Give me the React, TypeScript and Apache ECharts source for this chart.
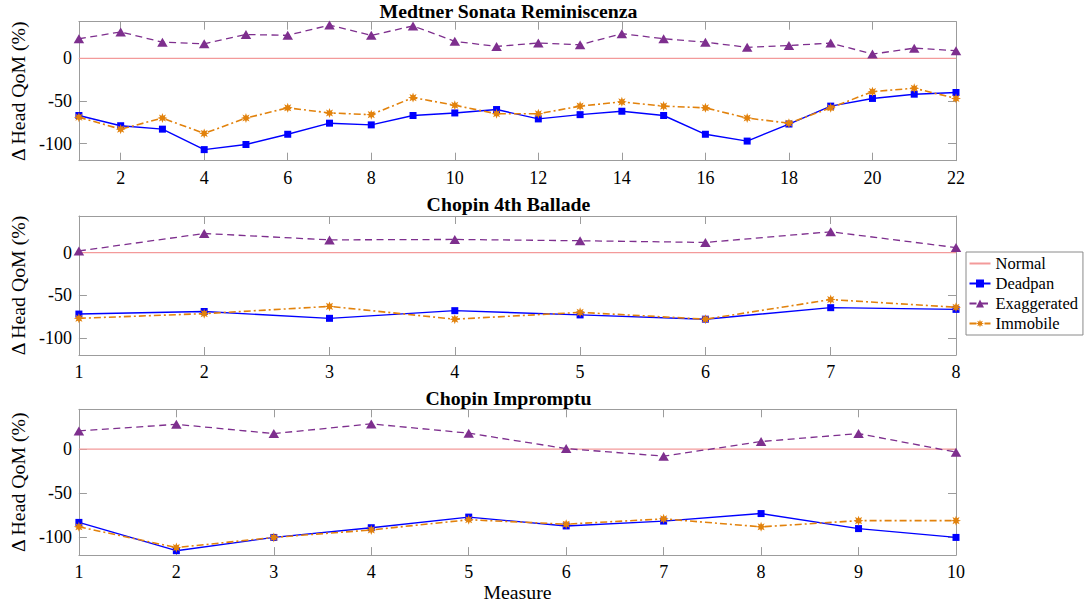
import React, { useEffect, useRef } from "react";
import * as echarts from "echarts";

// ---------- data ----------
const measures1 = [1, 2, 3, 4, 5, 6, 7, 8, 9, 10, 11, 12, 13, 14, 15, 16, 17, 18, 19, 20, 21, 22];
const normal1 = [0, 0, 0, 0, 0, 0, 0, 0, 0, 0, 0, 0, 0, 0, 0, 0, 0, 0, 0, 0, 0, 0];
const deadpan1 = [-67, -79, -83, -107, -101, -89, -76, -78, -67, -64, -60, -71, -66, -62, -67, -89, -97, -77, -56, -47, -42, -40];
const exaggerated1 = [23, 31, 19, 17, 28, 27, 39, 27, 38, 20, 14, 18, 16, 29, 23, 19, 13, 15, 18, 5, 12, 9];
const immobile1 = [-69, -83, -70, -88, -70, -58, -64, -66, -46, -55, -65, -65, -56, -51, -56, -58, -70, -76, -58, -39, -35, -47];
const xTicks1 = [2, 4, 6, 8, 10, 12, 14, 16, 18, 20, 22];

const measures2 = [1, 2, 3, 4, 5, 6, 7, 8];
const normal2 = [0, 0, 0, 0, 0, 0, 0, 0];
const deadpan2 = [-72, -69, -77, -68, -73, -78, -64.5, -66.5];
const exaggerated2 = [2, 22.5, 15, 15.5, 14, 12, 24.5, 6];
const immobile2 = [-77, -71.5, -63, -78, -70, -78, -55, -64];
const xTicks2 = [1, 2, 3, 4, 5, 6, 7, 8];

const measures3 = [1, 2, 3, 4, 5, 6, 7, 8, 9, 10];
const normal3 = [0, 0, 0, 0, 0, 0, 0, 0, 0, 0];
const deadpan3 = [-83, -115, -100, -89, -77, -87, -81.5, -73, -90, -100];
const exaggerated3 = [20.5, 28, 17.5, 28.5, 18, 0.5, -8, 8.5, 17.5, -3.5];
const immobile3 = [-88, -111.5, -100, -91.5, -80, -85, -79, -88, -81, -81];
const xTicks3 = [1, 2, 3, 4, 5, 6, 7, 8, 9, 10];

const yTicks = [-100, -50, 0];
const titles = ["Medtner Sonata Reminiscenza", "Chopin 4th Ballade", "Chopin Impromptu"];
const seriesNames = ["Normal", "Deadpan", "Exaggerated", "Immobile"];
const yLabel = "\u0394 Head QoM (%)";
const xLabel = "Measure";

// ---------- styles ----------
const FONT = '"Liberation Serif", "Times New Roman", Times, serif';
const AXIS_COLOR = "#9c9c9c";
const C_NORMAL = "#f39a9a";
const C_DEADPAN = "#0000ff";
const C_EXAG = "#7e2f8e";
const C_IMMOB = "#e2820c";

function starSymbol(): string {
  const pts: string[] = [];
  const n = 8;
  for (let k = 0; k < n * 2; k++) {
    const r = k % 2 === 0 ? 10 : 5;
    const a = (Math.PI * k) / n - Math.PI / 2;
    pts.push(`${(r * Math.cos(a)).toFixed(3)},${(r * Math.sin(a)).toFixed(3)}`);
  }
  return "path://M" + pts.join("L") + "Z";
}

const panels = [
  { measures: measures1, normal: normal1, deadpan: deadpan1, exag: exaggerated1, immob: immobile1, xTicks: xTicks1, yMax: 43, top: 21.7, height: 139, titleY: 11 },
  { measures: measures2, normal: normal2, deadpan: deadpan2, exag: exaggerated2, immob: immobile2, xTicks: xTicks2, yMax: 43, top: 216, height: 139, titleY: 204 },
  { measures: measures3, normal: normal3, deadpan: deadpan3, exag: exaggerated3, immob: immobile3, xTicks: xTicks3, yMax: 45, top: 409.3, height: 146.7, titleY: 397.5 },
];

function zip(xs: number[], ys: number[]) {
  return xs.map((x, i) => [x, ys[i]]);
}

export default function App() {
  const ref = useRef<HTMLDivElement>(null);
  useEffect(() => {
    if (!ref.current) return;
    const chart = echarts.init(ref.current, null, { renderer: "svg" });
    const star = starSymbol();
    const grids: any[] = [];
    const xAxes: any[] = [];
    const yAxes: any[] = [];
    const series: any[] = [];
    const graphics: any[] = [];

    panels.forEach((p, i) => {
      grids.push({ left: 61, right: 128, top: p.top, height: p.height, containLabel: false });
      const xMax = p.measures[p.measures.length - 1];
      const xMin = p.measures[0];
      const baseX = {
        type: "value",
        gridIndex: i,
        min: xMin,
        max: xMax,
        splitLine: { show: false },
        axisLine: { show: true, onZero: false, lineStyle: { color: AXIS_COLOR, width: 1 } },
        axisTick: { show: true, inside: true, length: 8, customValues: p.xTicks, lineStyle: { color: AXIS_COLOR } },
      };
      xAxes.push({
        ...baseX,
        position: "bottom",
        axisLabel: { show: true, customValues: p.xTicks, fontSize: 18, fontFamily: FONT, color: "#000", margin: 8 },
        ...(i === 2
          ? { name: xLabel, nameLocation: "middle", nameGap: 23, nameTextStyle: { fontSize: 19.8, fontFamily: FONT, color: "#000" } }
          : {}),
      });
      xAxes.push({ ...baseX, position: "top", axisLabel: { show: false } });

      const baseY = {
        type: "value",
        gridIndex: i,
        min: -120,
        max: p.yMax,
        splitLine: { show: false },
        axisLine: { show: true, onZero: false, lineStyle: { color: AXIS_COLOR, width: 1 } },
        axisTick: { show: true, inside: true, length: 8, customValues: yTicks, lineStyle: { color: AXIS_COLOR } },
      };
      yAxes.push({
        ...baseY,
        position: "left",
        axisLabel: { show: true, customValues: yTicks, fontSize: 18, fontFamily: FONT, color: "#000", margin: 7 },
        name: yLabel,
        nameLocation: "middle",
        nameGap: 39,
        nameTextStyle: { fontSize: 19.8, fontFamily: FONT, color: "#000" },
      });
      yAxes.push({ ...baseY, position: "right", axisLabel: { show: false } });

      const xi = 2 * i;
      series.push({
        name: seriesNames[0],
        type: "line",
        xAxisIndex: xi,
        yAxisIndex: xi,
        data: zip(p.measures, p.normal),
        showSymbol: false,
        symbol: "circle",
        symbolSize: 0,
        itemStyle: { color: "rgba(0,0,0,0)" },
        lineStyle: { color: C_NORMAL, width: 1.2, type: "solid" },
        z: 1,
      });
      series.push({
        name: seriesNames[1],
        type: "line",
        xAxisIndex: xi,
        yAxisIndex: xi,
        data: zip(p.measures, p.deadpan),
        symbol: "rect",
        symbolSize: 7,
        itemStyle: { color: C_DEADPAN },
        lineStyle: { color: C_DEADPAN, width: 1.4, type: "solid" },
        z: 2,
      });
      series.push({
        name: seriesNames[2],
        type: "line",
        xAxisIndex: xi,
        yAxisIndex: xi,
        data: zip(p.measures, p.exag),
        symbol: "triangle",
        symbolSize: [10.5, 9],
        itemStyle: { color: C_EXAG },
        lineStyle: { color: C_EXAG, width: 1.3, type: [7, 4.5] },
        z: 3,
      });
      series.push({
        name: seriesNames[3],
        type: "line",
        xAxisIndex: xi,
        yAxisIndex: xi,
        data: zip(p.measures, p.immob),
        symbol: star,
        symbolSize: 10,
        itemStyle: { color: C_IMMOB },
        lineStyle: { color: C_IMMOB, width: 1.6, type: [7, 3, 2, 3] },
        z: 4,
      });

      graphics.push({
        type: "text",
        x: 508.5,
        y: p.titleY,
        style: {
          text: titles[i],
          fontSize: 19.8,
          fontWeight: "bold",
          fontFamily: FONT,
          fill: "#000",
          align: "center",
          verticalAlign: "middle",
        },
      });
    });

    chart.setOption({
      animation: false,
      backgroundColor: "#ffffff",
      grid: grids,
      xAxis: xAxes,
      yAxis: yAxes,
      series,
      graphic: graphics,
      legend: {
        show: true,
        data: seriesNames,
        orient: "vertical",
        left: 966,
        top: 252,
        padding: [3, 5, 3, 2.5],
        itemGap: 3,
        itemWidth: 21,
        itemHeight: 10,
        borderColor: "#8a8a8a",
        borderWidth: 1,
        backgroundColor: "#ffffff",
        selectedMode: false,
        textStyle: { fontSize: 16.5, fontFamily: FONT, color: "#000" },
      },
    });
    return () => chart.dispose();
  }, []);
  return (
    <div
      ref={ref}
      style={{ position: "fixed", left: 0, top: 0, width: 1084, height: 603, background: "#fff" }}
    />
  );
}
